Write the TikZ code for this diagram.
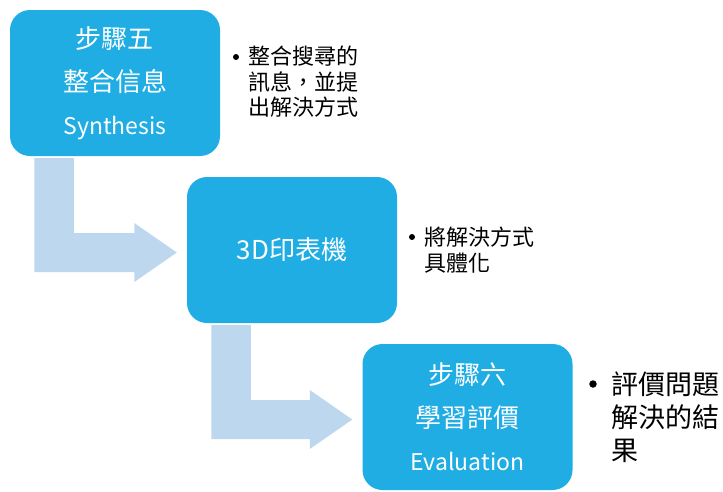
\documentclass[tikz,border=0pt]{standalone}
\usepackage{fontspec}
\setmainfont{Noto Sans CJK TC}
\usetikzlibrary{calc,backgrounds}

\definecolor{stepblue}{HTML}{1FADE4}
\definecolor{flowblue}{HTML}{BDD7EE}

% bent block arrow: down from the foot of one box, then right into the next
\newcommand{\bentarrow}[2]{%
  \fill[flowblue] ($(#1.south west)+(24.5,2)$) -- ($(#1.south west)+(64,2)$)
    |- ($(#2.west)+(-52.5,-17)$) -- ($(#2.west)+(-52.5,-27)$)
    -- ($(#2.west)+(-10,2.5)$) -- ($(#2.west)+(-52.5,32)$)
    -- ($(#2.west)+(-52.5,22)$) -| ($(#1.south west)+(24.5,2)$) -- cycle;}
\newcommand{\latinline}{\fontsize{23}{43}\selectfont}

\begin{document}
\begin{tikzpicture}[
  x=1pt, y=-1pt,
  stepbox/.style = {rectangle, rounded corners=20pt, fill=stepblue, text=white,
    minimum width=210pt, minimum height=146pt, align=center, inner sep=0pt,
    font=\fontsize{26}{43}\selectfont},
  note/.style = {align=left, inner sep=0pt, font=\fontsize{22}{25.5}\selectfont},
  bignote/.style = {note, font=\fontsize{27}{33}\selectfont},
  dot/.style = {circle, fill=black, inner sep=0pt, minimum size=6pt}
]
\useasboundingbox (0,0) rectangle (723,491);

% the three steps
\node[stepbox] (step5)   at (115,83)    {步驟五\\整合信息\\{\latinline Synthesis}};
\node[stepbox] (printer) at (292,250)   {3D印表機};
\node[stepbox] (step6)   at (467.5,417) {步驟六\\學習評價\\{\latinline Evaluation}};

% bullet notes beside each step
\node[dot] (dot5) at (236,57) {};
\node[note, anchor=west] (note5) at (248,82) {整合搜尋的\\訊息，並提\\出解決方式};
\node[dot] (dotp) at (412,237) {};
\node[note, anchor=west] (notep) at (424,250) {將解決方式\\具體化};
\node[dot, minimum size=7.5pt] (dot6) at (593,384) {};
\node[bignote, anchor=west] (note6) at (611,417) {評價問題\\解決的結\\果};

\begin{scope}[on background layer]
  \bentarrow{step5}{printer}
  \bentarrow{printer}{step6}
\end{scope}
\end{tikzpicture}
\end{document}
